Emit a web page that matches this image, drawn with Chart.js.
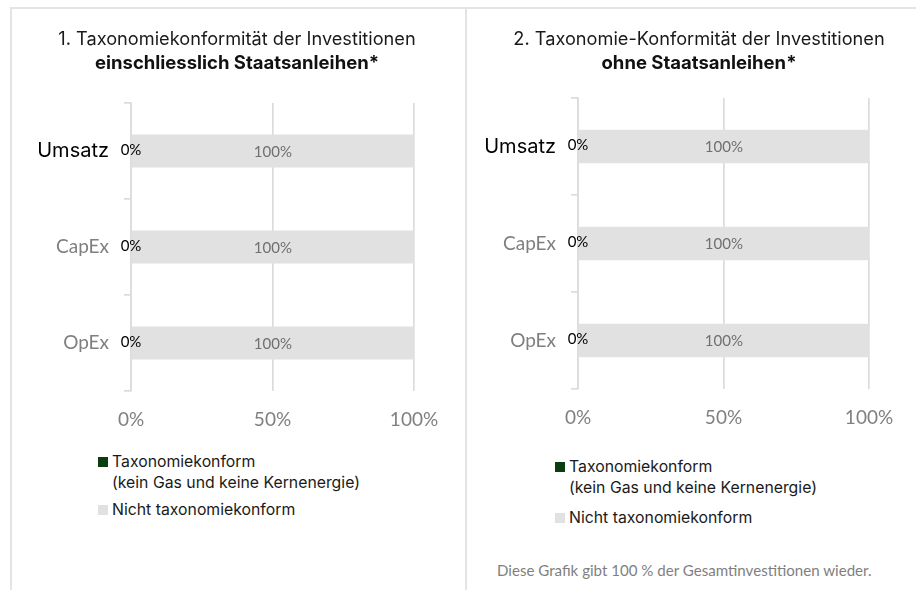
<!DOCTYPE html>
<html>
<head>
<meta charset="utf-8">
<script src="https://cdn.jsdelivr.net/npm/chart.js@4/dist/chart.umd.min.js"></script>
<style>
  html, body { margin:0; padding:0; width:916px; height:590px; overflow:hidden; background:#fff; }
  #frame { position:absolute; left:0; top:0; width:916px; height:590px; }
  .line { position:absolute; background:#e4e4e4; }
  .cv { position:absolute; }
  .legend { position:absolute; font-family: Inter, "Noto Sans", sans-serif; font-size:15.8px; color:#1a1a1a; white-space:nowrap; }
  .legend .item { position:relative; padding-left:14px; }
  .legend .sw { position:absolute; left:0; width:10px; height:10px; }
  .footer { position:absolute; font-family: Lato, "Open Sans", sans-serif; font-size:15.1px; color:#7f7f7f; white-space:nowrap; }
</style>
</head>
<body>
<div id="frame">
  <div class="line" style="left:10px; top:7px; width:906px; height:2px;"></div>
  <div class="line" style="left:10px; top:7px; width:2px; height:583px;"></div>
  <div class="line" style="left:465px; top:7px; width:2px; height:583px;"></div>
  <div class="cv" style="left:12px; top:9px; width:450px; height:431px;"><canvas id="c1"></canvas></div>
  <div class="cv" style="left:468px; top:9px; width:448px; height:431px;"><canvas id="c2"></canvas></div>
  <div class="legend" id="leg1" style="left:98px; top:451px;"></div>
  <div class="legend" id="leg2" style="left:555px; top:456px;"></div>
  <div class="footer" id="foot" style="left:497px; top:561px;"></div>
</div>
<script>
// ---- data ----
const categories = ["Umsatz", "CapEx", "OpEx"];
const seriesNames = [["Taxonomiekonform", "(kein Gas und keine Kernenergie)"], ["Nicht taxonomiekonform"]];
const chart1Aligned = [0, 0, 0];
const chart1NotAligned = [100, 100, 100];
const chart2Aligned = [0, 0, 0];
const chart2NotAligned = [100, 100, 100];
const xTicks = [0, 50, 100];
const titles1 = ["1. Taxonomiekonformität der Investitionen", "einschliesslich Staatsanleihen*"];
const titles2 = ["2. Taxonomie-Konformität der Investitionen", "ohne Staatsanleihen*"];
const footerText = "Diese Grafik gibt 100 % der Gesamtinvestitionen wieder.";

const GREEN = "#0a3d0f";
const GREY = "#e1e1e1";
const GRID = "#dcdcdc";

const labelPlugin = {
  id: "barLabels",
  afterDatasetsDraw(chart) {
    const ctx = chart.ctx;
    ctx.save();
    ctx.textAlign = "center";
    ctx.textBaseline = "middle";
    chart.data.datasets.forEach((ds, di) => {
      const meta = chart.getDatasetMeta(di);
      meta.data.forEach((el, i) => {
        const v = ds.data[i];
        const cx = (el.x + el.base) / 2;
        if (di === 0) {
          ctx.fillStyle = "#000";
          ctx.font = "15px Lato, 'Open Sans', sans-serif";
          ctx.fillText(v + "%", cx, el.y - 1);
        } else {
          ctx.fillStyle = "#707070";
          ctx.font = "15px Lato, 'Open Sans', sans-serif";
          ctx.fillText(v + "%", cx, el.y + 1);
        }
      });
    });
    ctx.restore();
  }
};

// two-line panel heading drawn on the canvas
const headerPlugin = {
  id: "panelHeader",
  afterDraw(chart, args, opts) {
    const ctx = chart.ctx;
    ctx.save();
    ctx.textAlign = "center";
    ctx.textBaseline = "middle";
    ctx.fillStyle = "#1a1a1a";
    ctx.font = "18.2px Inter, 'Noto Sans', sans-serif";
    ctx.fillText(opts.lines[0], opts.cx, opts.y1);
    ctx.fillStyle = "#111";
    ctx.font = "bold 18.5px Inter, 'Noto Sans', sans-serif";
    ctx.fillText(opts.lines[1], opts.cx, opts.y2);
    ctx.restore();
  }
};

function makeChart(id, aligned, notAligned, titles, padTop, padR, yW, xH, cx) {
  return new Chart(document.getElementById(id), {
    type: "bar",
    data: {
      labels: categories,
      datasets: [
        { label: seriesNames[0].join(" "), data: aligned, backgroundColor: GREEN, categoryPercentage: 1, barPercentage: 0.345 },
        { label: seriesNames[1].join(" "), data: notAligned, backgroundColor: GREY, categoryPercentage: 1, barPercentage: 0.345 }
      ]
    },
    options: {
      indexAxis: "y",
      responsive: true,
      maintainAspectRatio: false,
      animation: false,
      layout: { padding: { left: 0, right: padR, top: padTop, bottom: 0 } },
      plugins: {
        legend: { display: false },
        tooltip: { enabled: false },
        panelHeader: { lines: titles, cx: cx, y1: 30.5, y2: 54.5 }
      },
      scales: {
        x: {
          stacked: true, min: 0, max: 100,
          afterBuildTicks(axis) { axis.ticks = xTicks.map(v => ({ value: v })); },
          afterFit(axis) { axis.height = xH; },
          grid: { color: GRID, lineWidth: 1.7, drawTicks: false },
          border: { display: false },
          ticks: {
            padding: 17, color: "#808080",
            font: { family: "Lato, 'Open Sans', sans-serif", size: 19 },
            callback: v => v + "%"
          }
        },
        y: {
          stacked: true,
          afterFit(axis) { axis.width = yW; },
          grid: { drawOnChartArea: false, drawTicks: true, tickLength: 7, color: GRID, lineWidth: 1.7 },
          border: { display: true, color: GRID, width: 1.7 },
          ticks: {
            padding: 15,
            color: ctx => ctx.index === 0 ? "#000" : "#7f7f7f",
            font: ctx => ctx.index === 0
              ? { family: "Inter, 'Noto Sans', sans-serif", size: 20 }
              : { family: "Lato, 'Open Sans', sans-serif", size: 19 }
          }
        }
      }
    },
    plugins: [labelPlugin, headerPlugin]
  });
}

makeChart("c1", chart1Aligned, chart1NotAligned, titles1, 94, 48, 119, 49, 225);
makeChart("c2", chart2Aligned, chart2NotAligned, titles2, 89, 47, 110, 51, 231);

function buildLegend(id, gap2) {
  const el = document.getElementById(id);
  const colors = [GREEN, GREY];
  seriesNames.forEach((lines, i) => {
    const item = document.createElement("div");
    item.className = "item";
    item.style.lineHeight = "21px";
    if (i === 1) item.style.marginTop = gap2 + "px";
    const sw = document.createElement("span");
    sw.className = "sw";
    sw.style.background = colors[i];
    sw.style.top = "6px";
    item.appendChild(sw);
    lines.forEach(t => {
      const d = document.createElement("div");
      d.textContent = t;
      item.appendChild(d);
    });
    el.appendChild(item);
  });
}
buildLegend("leg1", 6);
buildLegend("leg2", 9);
document.getElementById("foot").textContent = footerText;
</script>
</body>
</html>
